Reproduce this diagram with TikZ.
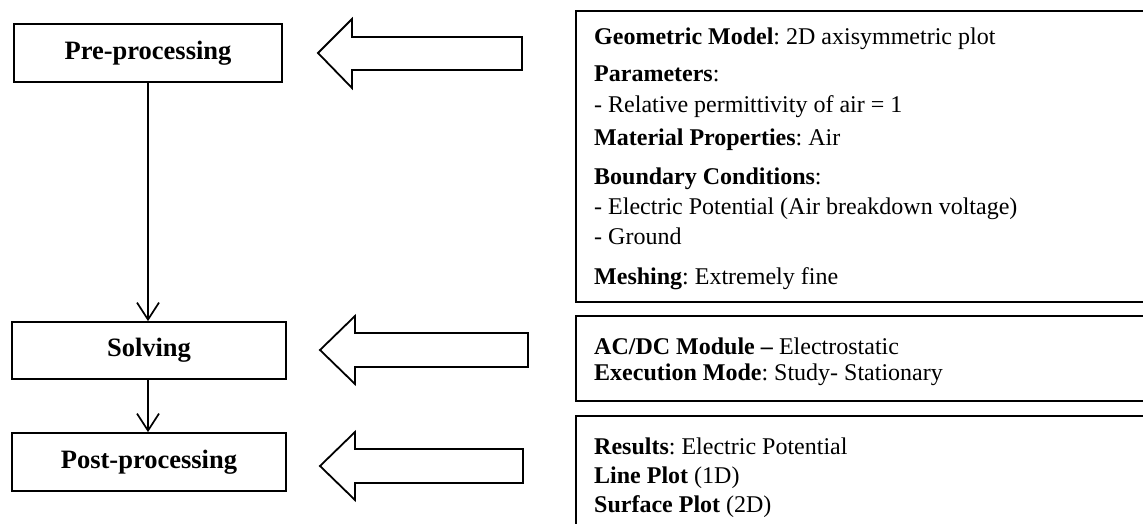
\documentclass[tikz,border=0pt]{standalone}
\usepackage{fontspec}
\setmainfont{Liberation Serif}
\usetikzlibrary{arrows.meta}
\frenchspacing
\begin{document}
\begin{tikzpicture}[x=1pt,y=-1pt,
  stage/.style={draw, line width=1.7pt, font=\fontsize{26.5}{30}\selectfont\bfseries, inner sep=0pt},
  infobox/.style={draw, line width=1.7pt, anchor=north west, inner sep=0pt},
  info/.style={anchor=base west, inner sep=0pt, font=\fontsize{24}{30}\selectfont},
  flow/.style={line width=1.7pt, -{Straight Barb[length=17pt,width=22pt,line width=1.7pt]}},
  blockarrow/.style={draw, line width=1.8pt, line join=miter, fill=white}]
\useasboundingbox (0,0) rectangle (1143,524);
\clip (0,0) rectangle (1143,524);

% stages
\node[stage, minimum width=268pt, minimum height=58pt] (pre) at (148,53) {Pre-processing};
\node[stage, minimum width=274pt, minimum height=57pt] (solve) at (149,350.5) {Solving};
\node[stage, minimum width=274pt, minimum height=58pt] (post) at (149,462) {Post-processing};

\draw[flow] (pre.south) -- (pre.south |- solve.north);
\draw[flow] (pre.south |- solve.south) -- (pre.south |- post.north);

% block arrows
\draw[blockarrow] (318,53) -- (352,19) -- (352,37) -- (522,37) -- (522,70) -- (352,70) -- (352,88) -- cycle;
\draw[blockarrow] (320,350) -- (355,316) -- (355,333) -- (528,333) -- (528,367) -- (355,367) -- (355,384) -- cycle;
\draw[blockarrow] (320,466) -- (355,432) -- (355,449) -- (523,449) -- (523,483) -- (355,483) -- (355,500) -- cycle;

% info boxes
\node[infobox, minimum width=600pt, minimum height=291pt] (geo) at (575,10) {};
\node[infobox, minimum width=600pt, minimum height=85pt] (solv) at (575,315) {};
\node[infobox, minimum width=600pt, minimum height=130pt] (res) at (575,415) {};

% info text
\node[info] (g1) at (594,45) {\textbf{Geometric Model}: 2D axisymmetric plot};
\node[info] (g2) at (594,82) {\textbf{Parameters}:};
\node[info] (g3) at (594,113) {- Relative permittivity of air = 1};
\node[info] (g4) at (594,146) {\textbf{Material Properties}: Air};
\node[info] (g5) at (594,184) {\textbf{Boundary Conditions}:};
\node[info] (g6) at (594,214) {- Electric Potential (Air breakdown voltage)};
\node[info] (g7) at (594,244) {- Ground};
\node[info] (g8) at (594,284) {\textbf{Meshing}: Extremely fine};

\node[info] (s1) at (594,354) {\textbf{AC/DC Module –} Electrostatic};
\node[info] (s2) at (594,380) {\textbf{Execution Mode}: Study- Stationary};

\node[info] (r1) at (594,454) {\textbf{Results}: Electric Potential};
\node[info] (r2) at (594,483) {\textbf{Line Plot} (1D)};
\node[info] (r3) at (594,512) {\textbf{Surface Plot} (2D)};
\end{tikzpicture}
\end{document}
